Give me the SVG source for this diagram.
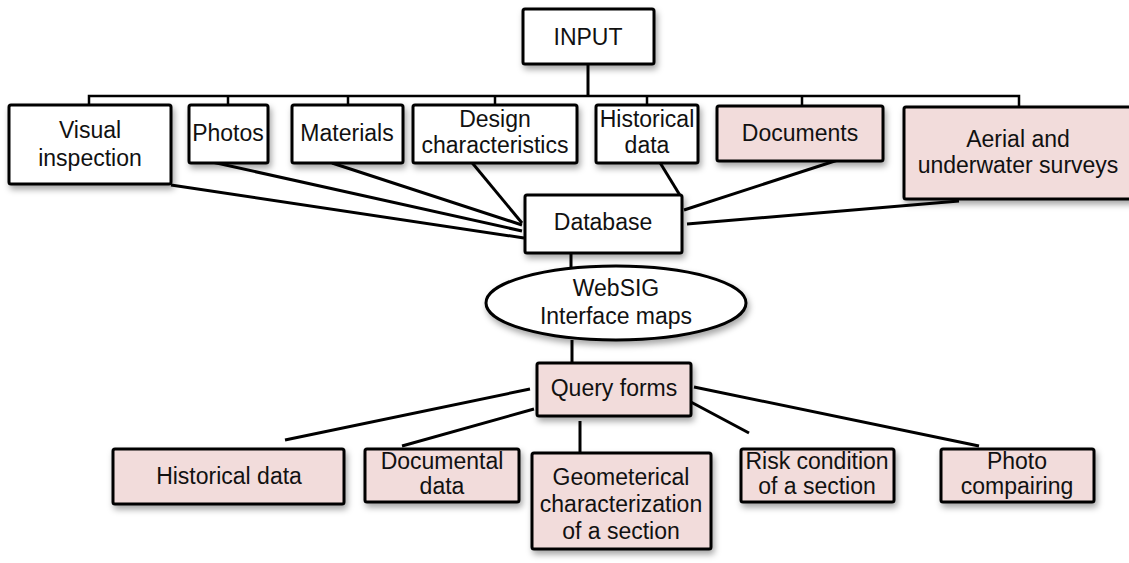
<svg xmlns="http://www.w3.org/2000/svg" width="1129" height="563" viewBox="0 0 1129 563">
<defs>
<filter id="sh" x="-10%" y="-10%" width="130%" height="140%">
<feDropShadow dx="2" dy="4" stdDeviation="3" flood-color="#000" flood-opacity="0.35"/>
</filter>
<style>
.box{fill:#fff;stroke:#000;stroke-width:3;filter:url(#sh)}
.pink{fill:#F2DCDB}
.t{font-family:"Liberation Sans",Arial,sans-serif;font-size:23px;fill:#111;text-anchor:middle}
.c{stroke:#000;stroke-width:3;fill:none;stroke-linecap:butt}
.bus{stroke:#000;stroke-width:2.5;fill:none}
</style>
</defs>
<rect width="1129" height="563" fill="#fff"/>
<g id="connectors">
<line class="c" x1="588" y1="64" x2="588" y2="96"/>
<polyline class="bus" points="89,106 89,96 1019,96 1019,107"/>
<line class="bus" x1="228" y1="96" x2="228" y2="105"/>
<line class="bus" x1="348" y1="96" x2="348" y2="105"/>
<line class="bus" x1="495" y1="96" x2="495" y2="105"/>
<line class="bus" x1="647" y1="96" x2="647" y2="105"/>
<line class="bus" x1="802" y1="96" x2="802" y2="106"/>
<line class="c" x1="171" y1="185" x2="524" y2="238"/>
<line class="c" x1="212" y1="162" x2="522" y2="231"/>
<line class="c" x1="332" y1="163" x2="522" y2="225"/>
<line class="c" x1="469" y1="159" x2="522" y2="223"/>
<line class="c" x1="659" y1="161" x2="681" y2="197"/>
<line class="c" x1="844" y1="158" x2="684" y2="210"/>
<line class="c" x1="959" y1="201" x2="687" y2="224"/>
<line class="c" x1="571" y1="253" x2="571" y2="267"/>
<line class="c" x1="572" y1="340" x2="572" y2="363"/>
<line class="c" x1="530" y1="389" x2="285" y2="440"/>
<line class="c" x1="534" y1="409" x2="402" y2="446"/>
<line class="c" x1="580" y1="421" x2="580" y2="453"/>
<line class="c" x1="689" y1="401" x2="749" y2="433"/>
<line class="c" x1="694" y1="387" x2="979" y2="446"/>
</g>
<g id="input">
<rect class="box" x="523" y="9" width="131" height="55" rx="2"/>
<text class="t" x="588" y="45">INPUT</text>
</g>
<g id="visual-inspection">
<rect class="box" x="9" y="105" width="162" height="79" rx="2"/>
<text class="t" x="90" y="138">Visual</text>
<text class="t" x="90" y="166">inspection</text>
</g>
<g id="photos">
<rect class="box" x="189" y="105" width="79" height="58" rx="2"/>
<text class="t" x="228" y="141">Photos</text>
</g>
<g id="materials">
<rect class="box" x="292" y="105" width="111" height="58" rx="2"/>
<text class="t" x="347" y="141">Materials</text>
</g>
<g id="design-characteristics">
<rect class="box" x="413" y="105" width="164" height="58" rx="2"/>
<text class="t" x="495" y="127">Design</text>
<text class="t" x="495" y="153">characteristics</text>
</g>
<g id="historical-data-input">
<rect class="box" x="596" y="105" width="102" height="58" rx="2"/>
<text class="t" x="647" y="127">Historical</text>
<text class="t" x="647" y="153">data</text>
</g>
<g id="documents">
<rect class="box pink" x="717" y="106" width="166" height="55" rx="2"/>
<text class="t" x="800" y="141">Documents</text>
</g>
<g id="aerial-surveys">
<rect class="box pink" x="904" y="107" width="230" height="92" rx="2"/>
<text class="t" x="1018" y="147">Aerial and</text>
<text class="t" x="1018" y="173">underwater surveys</text>
</g>
<g id="database">
<rect class="box" x="525" y="195" width="157" height="58" rx="2"/>
<text class="t" x="603" y="230">Database</text>
</g>
<g id="websig">
<ellipse class="box" cx="616" cy="303" rx="130" ry="37"/>
<text class="t" x="616" y="296">WebSIG</text>
<text class="t" x="616" y="324">Interface maps</text>
</g>
<g id="query-forms">
<rect class="box pink" x="537" y="363" width="154" height="53" rx="2"/>
<text class="t" x="614" y="396">Query forms</text>
</g>
<g id="historical-data">
<rect class="box pink" x="113" y="449" width="231" height="55" rx="2"/>
<text class="t" x="229" y="484">Historical data</text>
</g>
<g id="documental-data">
<rect class="box pink" x="365" y="449" width="154" height="53" rx="2"/>
<text class="t" x="442" y="469">Documental</text>
<text class="t" x="442" y="494">data</text>
</g>
<g id="geometrical">
<rect class="box pink" x="532" y="453" width="179" height="96" rx="2"/>
<text class="t" x="621" y="485">Geometerical</text>
<text class="t" x="621" y="512">characterization</text>
<text class="t" x="621" y="539">of a section</text>
</g>
<g id="risk-condition">
<rect class="box pink" x="741" y="449" width="153" height="53" rx="2"/>
<text class="t" x="817" y="469">Risk condition</text>
<text class="t" x="817" y="494">of a section</text>
</g>
<g id="photo-compairing">
<rect class="box pink" x="941" y="449" width="153" height="53" rx="2"/>
<text class="t" x="1017" y="469">Photo</text>
<text class="t" x="1017" y="494">compairing</text>
</g>
</svg>
